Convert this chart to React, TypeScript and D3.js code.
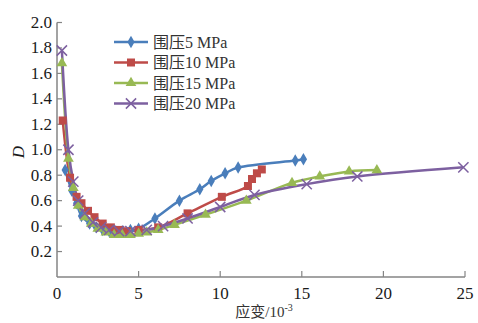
import React, { useRef, useEffect } from "react";
import * as d3 from "d3";

// strain (10^-3) and damage D for each confining pressure
const x5 = [0.5, 0.9, 1.2, 1.5, 2.0, 2.4, 2.8, 3.2, 3.6, 4.0, 4.5, 5.0, 6.0, 7.5, 8.75, 9.45, 10.3, 11.1, 14.6, 15.1];
const d5 = [0.84, 0.68, 0.58, 0.48, 0.42, 0.39, 0.37, 0.36, 0.36, 0.36, 0.37, 0.38, 0.46, 0.6, 0.69, 0.755, 0.815, 0.86, 0.915, 0.925];

const x10 = [0.35, 0.8, 1.2, 1.5, 1.9, 2.3, 2.8, 3.3, 3.8, 4.3, 5.0, 6.2, 8.0, 10.1, 11.7, 11.95, 12.25, 12.55];
const d10 = [1.23, 0.78, 0.63, 0.58, 0.52, 0.47, 0.42, 0.39, 0.37, 0.36, 0.37, 0.39, 0.5, 0.63, 0.715, 0.77, 0.815, 0.845];

const x15 = [0.3, 0.7, 1.0, 1.3, 1.7, 2.1, 2.5, 3.0, 3.5, 4.0, 4.5, 5.0, 5.5, 6.2, 7.2, 9.1, 11.6, 14.4, 16.1, 17.9, 19.6];
const d15 = [1.68, 0.93, 0.7, 0.56, 0.47, 0.42, 0.38, 0.35, 0.33, 0.33, 0.33, 0.34, 0.35, 0.37, 0.41, 0.49, 0.6, 0.74, 0.79, 0.83, 0.84];

const x20 = [0.3, 0.7, 1.0, 1.3, 1.7, 2.2, 2.7, 3.2, 3.8, 4.5, 5.5, 6.5, 8.0, 10.0, 12.1, 15.3, 18.4, 24.9];
const d20 = [1.78, 1.0, 0.75, 0.6, 0.5, 0.43, 0.39, 0.37, 0.36, 0.36, 0.37, 0.4, 0.46, 0.55, 0.645, 0.73, 0.79, 0.862];

const seriesNames = ["围压5 MPa", "围压10 MPa", "围压15 MPa", "围压20 MPa"];
const colors = ["#4a7ebb", "#be4b48", "#98b954", "#7d60a0"];
const xTicks = [0, 5, 10, 15, 20, 25];
const yTicks = [0.2, 0.4, 0.6, 0.8, 1.0, 1.2, 1.4, 1.6, 1.8, 2.0];

const App: React.FC = () => {
    const svgRef = useRef<SVGSVGElement | null>(null);

    useEffect(() => {
        if (!svgRef.current) return;
        const svg = d3.select(svgRef.current);
        svg.selectAll("*").remove();

        const x = d3.scaleLinear().domain([0, 25]).range([57, 465]);
        const y = d3.scaleLinear().domain([0, 2]).range([277, 22.5]);
        const axisColor = "#858585";
        const serif = "'Liberation Serif', 'Times New Roman', serif";
        const cjk = "'Liberation Serif', 'Noto Sans CJK SC', serif";

        const series = [
            { xs: x5, ds: d5, sym: d3.symbolDiamond, size: 45 },
            { xs: x10, ds: d10, sym: d3.symbolSquare, size: 64 },
            { xs: x15, ds: d15, sym: d3.symbolTriangle, size: 50 },
            { xs: x20, ds: d20, sym: d3.symbolX, size: 70 },
        ];

        // axes
        svg.append("line")
            .attr("x1", x(0)).attr("x2", x(25))
            .attr("y1", y(0)).attr("y2", y(0))
            .attr("stroke", axisColor).attr("stroke-width", 1.5);
        svg.append("line")
            .attr("x1", x(0)).attr("x2", x(0))
            .attr("y1", y(0)).attr("y2", y(2))
            .attr("stroke", axisColor).attr("stroke-width", 1.5);

        svg.append("g").selectAll("line")
            .data(xTicks.filter(t => t > 0))
            .join("line")
            .attr("x1", d => x(d)).attr("x2", d => x(d))
            .attr("y1", y(0)).attr("y2", y(0) - 6)
            .attr("stroke", axisColor).attr("stroke-width", 1.2);
        svg.append("g").selectAll("text")
            .data(xTicks)
            .join("text")
            .attr("x", d => x(d)).attr("y", 299)
            .attr("text-anchor", "middle")
            .attr("font-family", serif).attr("font-size", 17)
            .attr("fill", "#1a1a1a")
            .text(d => d);

        svg.append("g").selectAll("line")
            .data(yTicks)
            .join("line")
            .attr("x1", x(0)).attr("x2", x(0) + 5)
            .attr("y1", d => y(d)).attr("y2", d => y(d))
            .attr("stroke", axisColor).attr("stroke-width", 1.2);
        svg.append("g").selectAll("text")
            .data(yTicks)
            .join("text")
            .attr("x", 52).attr("y", d => y(d) + 5.5)
            .attr("text-anchor", "end")
            .attr("font-family", serif).attr("font-size", 17)
            .attr("fill", "#1a1a1a")
            .text(d => d.toFixed(1));

        // axis titles
        svg.append("text")
            .attr("transform", `translate(24,152) rotate(-90)`)
            .attr("text-anchor", "middle")
            .attr("font-family", serif).attr("font-size", 17)
            .attr("font-style", "italic")
            .attr("fill", "#1a1a1a")
            .text("D");
        const xt = svg.append("text")
            .attr("x", 264).attr("y", 317)
            .attr("text-anchor", "middle")
            .attr("font-family", cjk).attr("font-size", 15)
            .attr("fill", "#333");
        xt.append("tspan").text("应变/10");
        xt.append("tspan").attr("dy", -6).attr("font-size", 10).text("-3");

        // series lines, smoothed
        const line = d3.line().curve(d3.curveCatmullRom.alpha(0.5));
        series.forEach((s, i) => {
            const pts: [number, number][] = s.xs.map((v, j) => [x(v), y(s.ds[j])]);
            svg.append("path")
                .attr("d", line(pts) || "")
                .attr("fill", "none")
                .attr("stroke", colors[i])
                .attr("stroke-width", 2.5);
        });
        // markers
        series.forEach((s, i) => {
            const isX = s.sym === d3.symbolX;
            svg.append("g").selectAll("path")
                .data(s.xs.map((v, j) => [v, s.ds[j]]))
                .join("path")
                .attr("transform", d => `translate(${x(d[0])},${y(d[1])})`)
                .attr("d", d3.symbol(s.sym, s.size)() || "")
                .attr("fill", isX ? "none" : colors[i])
                .attr("stroke", isX ? colors[i] : "none")
                .attr("stroke-width", 1.5);
        });

        // legend
        const lg = svg.append("g");
        seriesNames.forEach((name, i) => {
            const ly = 42 + i * 20.5;
            const s = series[i];
            const isX = s.sym === d3.symbolX;
            lg.append("line")
                .attr("x1", 114).attr("x2", 148)
                .attr("y1", ly).attr("y2", ly)
                .attr("stroke", colors[i]).attr("stroke-width", 2.5);
            lg.append("path")
                .attr("transform", `translate(131,${ly})`)
                .attr("d", d3.symbol(s.sym, s.size)() || "")
                .attr("fill", isX ? "none" : colors[i])
                .attr("stroke", isX ? colors[i] : "none")
                .attr("stroke-width", 1.5);
            lg.append("text")
                .attr("x", 153).attr("y", ly + 5.5)
                .attr("font-family", cjk).attr("font-size", 16)
                .attr("fill", "#333")
                .text(name);
        });
    }, []);

    return (
        <svg
            ref={svgRef}
            width={478}
            height={323}
            viewBox="0 0 478 323"
            style={{ position: "absolute", left: 0, top: 0, background: "#fff" }}
        />
    );
};

export default App;
